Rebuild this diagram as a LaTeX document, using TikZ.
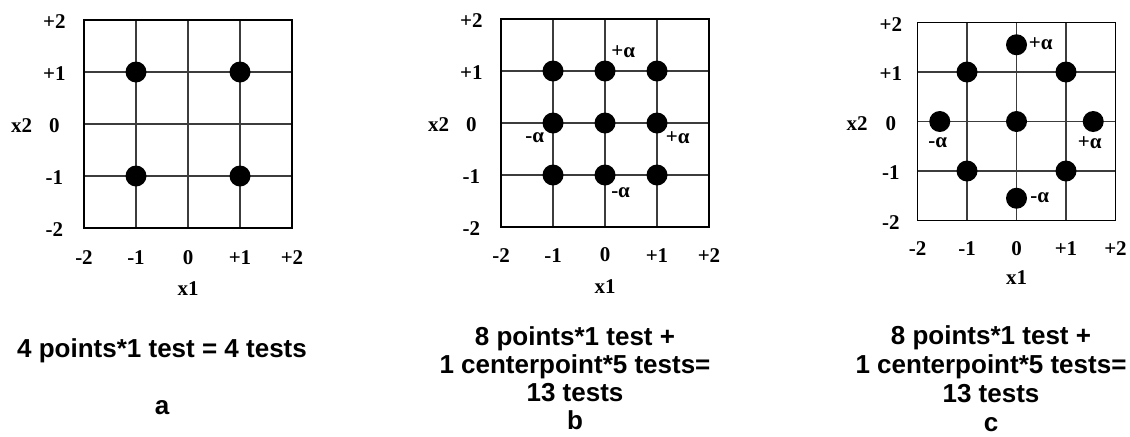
\documentclass[tikz,border=0pt]{standalone}
\usepackage{fontspec}
\setmainfont{Liberation Serif}
\newfontfamily\titelfont{Liberation Sans}
\usepackage{tikz}
\definecolor{rastergrau}{RGB}{60,60,60}

\begin{document}
\begin{tikzpicture}[x=1pt, y=1pt,
      raster/.style={rastergrau, line width=0.75pt},
      rahmen/.style={black, line width=0.8pt},
      punkt/.style={circle, fill=black, inner sep=0pt, minimum size=10.5pt},
      skala/.style={font=\fontsize{10.5}{12}\selectfont\bfseries, inner sep=0pt},
      titel/.style={font=\titelfont\fontsize{13}{14.5}\selectfont\bfseries, align=center, inner sep=0pt}]
  % Bildbereich
  \useasboundingbox (0,0) rectangle (565,218);
  %Versuchsplan a: 2^2 faktoriell
  \begin{scope}[shift={(94pt,156pt)}, x=26pt, y=26pt]
    %Raster zeichnen
    \foreach \w in {-1,0,1} {
      \draw[raster] (\w,-2) -- (\w,2);
      \draw[raster] (-2,\w) -- (2,\w);
    }
    \draw[rahmen] (-2,-2) rectangle (2,2);
    % Achsen beschriften
    \foreach \w/\t in {-2/-2,-1/-1,0/0,1/+1,2/+2} {
      \node[skala] (atx\w) at (\w,-2.56) {\t};
      \node[skala, yshift=-1pt] (aty\w) at (-2.57,\w) {\t};
    }
    \node[skala] (ax1) at (0,-3.17) {x1};
    \node[skala, yshift=-1pt] (ax2) at (-3.2,0) {x2};
    % Versuchspunkte
    \foreach \p/\q [count=\i] in {-1/1,1/1,-1/-1,1/-1}
      \node[punkt] (ap\i) at (\p,\q) {};
  \end{scope}
  %Versuchsplan b: mit Zentralpunkt
  \begin{scope}[shift={(302.5pt,156.5pt)}, x=26pt, y=26pt]
    %Raster zeichnen
    \foreach \w in {-1,0,1} {
      \draw[raster] (\w,-2) -- (\w,2);
      \draw[raster] (-2,\w) -- (2,\w);
    }
    \draw[rahmen] (-2,-2) rectangle (2,2);
    % Achsen beschriften
    \foreach \w/\t in {-2/-2,-1/-1,0/0,1/+1,2/+2} {
      \node[skala] (btx\w) at (\w,-2.54) {\t};
      \node[skala, yshift=-1pt] (bty\w) at (-2.57,\w) {\t};
    }
    \node[skala] (bx1) at (0,-3.15) {x1};
    \node[skala, yshift=-1pt] (bx2) at (-3.2,0) {x2};
    % Versuchspunkte
    \foreach \p in {-1,0,1}
      \foreach \q in {-1,0,1}
        \node[punkt] (bp\p\q) at (\p,\q) {};
    \node[skala] (bao) at (0.35,1.37) {+α};
    \node[skala] (bal) at (-1.35,-0.28) {-α};
    \node[skala] (bar) at (1.40,-0.28) {+α};
    \node[skala] (bau) at (0.30,-1.34) {-α};
  \end{scope}
  %Versuchsplan c: zentral zusammengesetzt
  \begin{scope}[shift={(508.25pt,157.25pt)}, x=24.75pt, y=24.75pt]
    %Raster zeichnen
    \foreach \w in {-1,0,1} {
      \draw[raster] (\w,-2) -- (\w,2);
      \draw[raster] (-2,\w) -- (2,\w);
    }
    \draw[rahmen] (-2,-2) rectangle (2,2);
    % Achsen beschriften
    \foreach \w/\t in {-2/-2,-1/-1,0/0,1/+1,2/+2} {
      \node[skala] (ctx\w) at (\w,-2.56) {\t};
      \node[skala, yshift=-1pt] (cty\w) at (-2.54,\w) {\t};
    }
    \node[skala] (cx1) at (0,-3.16) {x1};
    \node[skala, yshift=-1pt] (cx2) at (-3.22,0) {x2};
    % Versuchspunkte
    \foreach \p/\q [count=\i] in {-1/1,1/1,-1/-1,1/-1,0/0,0/1.55,0/-1.55,-1.55/0,1.55/0}
      \node[punkt] (cp\i) at (\p,\q) {};
    \node[skala] (cao) at (0.49,1.58) {+α};
    \node[skala] (cal) at (-1.59,-0.43) {-α};
    \node[skala] (car) at (1.48,-0.43) {+α};
    \node[skala] (cau) at (0.47,-1.53) {-α};
  \end{scope}
  %Beschriftung
  \node[titel, anchor=north] (atext) at (81,48.7) {4 points*1 test = 4 tests};
  \node[titel] (aname) at (81,14) {a};
  \node[titel, anchor=north, font=\titelfont\fontsize{13}{14}\selectfont\bfseries] (btext) at (287.5,55.1) {8 points*1 test +\\1 centerpoint*5 tests=\\13 tests\\b};
  \node[titel, anchor=north] (ctext) at (495.5,55.2) {8 points*1 test +\\1 centerpoint*5 tests=\\13 tests\\c};
\end{tikzpicture}
\end{document}
